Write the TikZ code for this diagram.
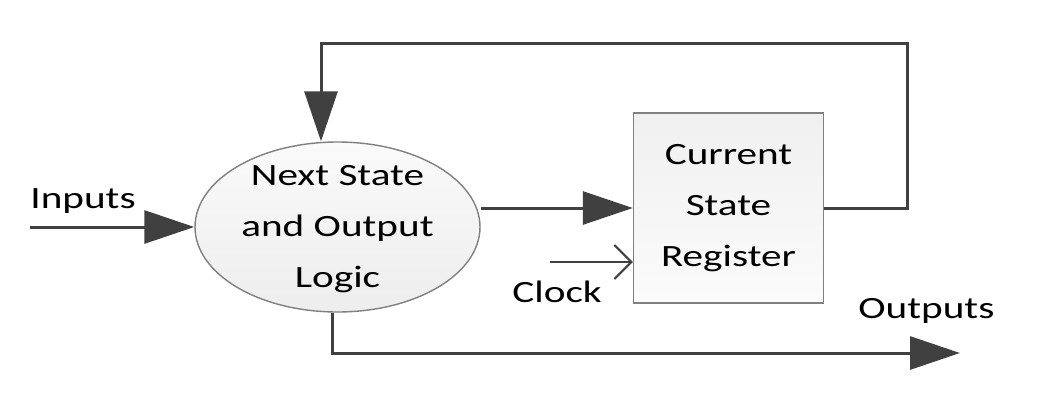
\documentclass[tikz,border=0pt]{standalone}
\usepackage{fontspec}
\setmainfont{Carlito}[FakeStretch=1.33]
\usepackage{tikz}
\usetikzlibrary{shapes.geometric,arrows.meta}
\definecolor{wiregray}{HTML}{404040}
\definecolor{edgegray}{HTML}{808080}
\tikzset{
  fsmlogic/.style={ellipse,draw=edgegray,line width=0.7pt,top color=gray!4,bottom color=gray!14,
    minimum width=142.5pt,minimum height=85pt,inner sep=0pt},
  fsmreg/.style={rectangle,draw=edgegray,line width=0.7pt,top color=gray!12,bottom color=gray!3,
    minimum width=95pt,minimum height=95pt,inner sep=0pt,align=center},
  fsmtext/.style={align=center},
  fsmwire/.style={draw=wiregray,line width=1.5pt},
  fsmarrow/.style={fsmwire,-{Triangle[length=25pt,width=16.5pt]}},
  fsmclock/.style={draw=wiregray,line width=1pt,-{Straight Barb[length=8.5pt,width=17pt]}},
  every picture/.style={font=\fontsize{15.5pt}{25.5pt}\selectfont}
}

\begin{document}
\begin{tikzpicture}[x=0.5pt,y=-0.5pt]
  \useasboundingbox (0,0) rectangle (1046,403);
  % blocks
  \node[fsmlogic] (logic) at (337.5,227) {};
  \node[fsmtext] (logictext) at (337.5,229) {Next State\\and Output\\Logic};
  \node[fsmreg] (reg) at (728.5,208) {Current\\State\\Register};
  % free ends
  \coordinate (inp) at (30,227);
  \coordinate (fbright) at (907,43);
  \coordinate (clk) at (550,262);
  \coordinate (outp) at (960,353);
  % wires
  \draw[fsmarrow] (inp) -- (logic.west);
  \draw[fsmarrow] (logic.east |- reg.west) -- (reg.west);
  \draw[fsmarrow] (reg.east) -| (fbright) -| ([xshift=-8.25pt]logic.north);
  \draw[fsmarrow] ([xshift=-2.75pt]logic.south) |- (outp);
  \draw[fsmclock] (clk) -- (clk -| reg.west);
  % labels
  \node[anchor=base west,inner sep=0pt] (inlabel) at (30,208) {Inputs};
  \node[anchor=base west,inner sep=0pt] (clklabel) at (512,302) {Clock};
  \node[anchor=base west,inner sep=0pt] (outlabel) at (858,318) {Outputs};
\end{tikzpicture}
\end{document}
